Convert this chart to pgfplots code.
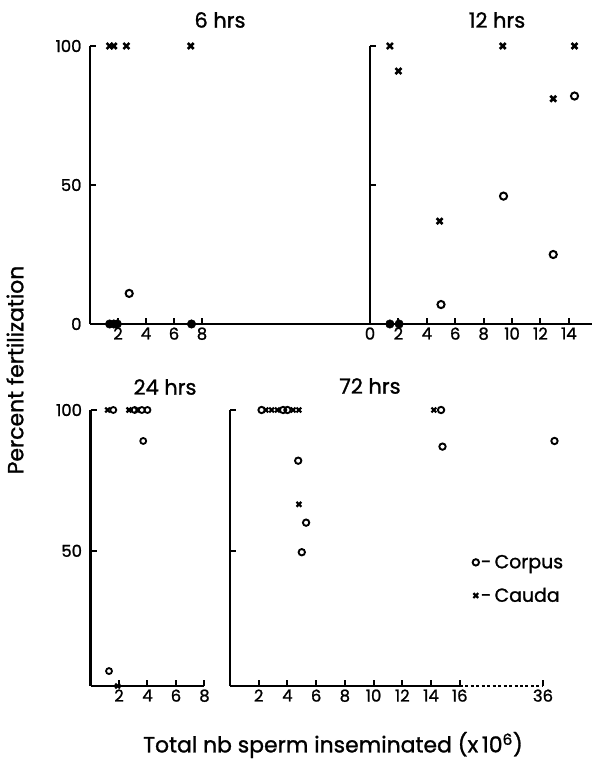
\documentclass[border=0pt]{standalone}
\usepackage{pgfplots}
\pgfplotsset{compat=1.18}
\usepackage{fontspec}
\setmainfont{Poppins}
\newfontfamily\lab{Poppins}[FakeBold=1.2]
\begin{document}
\begin{tikzpicture}
\useasboundingbox (0,0) rectangle (592bp,764bp);
\pgfplotsset{
  panel/.style={
    scale only axis, anchor=south west,
    axis x line=bottom, axis y line=left,
    axis line style={-, line width=2.3pt},
    tick align=inside, major tick length=6bp,
    tick style={line width=2pt, black},
    ticklabel style={font=\fontsize{16.5}{16.5}\selectfont\lab},
    yticklabel style={xshift=-5bp},
    /pgf/number format/assume math mode=true,
    clip=false,
  },
  corpus/.style={only marks, mark=o, mark size=3.6pt, mark options={line width=2pt}},
  corpusfill/.style={only marks, mark=*, mark size=4.3pt, mark options={fill=black}},
  cauda/.style={only marks, mark=x, mark size=4.2pt, mark options={line width=2.6pt}},
}
% 6 hrs
\begin{axis}[panel, at={(90bp,440bp)}, width=280bp, height=278bp,
  xmin=0, xmax=20, ymin=0, ymax=100, xtick={2,4,6,8}, ytick={0,50,100}]
\addplot[cauda] coordinates {(1.4,100)(1.7,100)(2.6,100)(7.2,100)};
\addplot[corpus] coordinates {(2.8,11)};
\addplot[corpusfill] coordinates {(1.4,0)(1.7,0)(1.95,0)(7.25,0)};
\end{axis}
% 12 hrs
\begin{axis}[panel, at={(370bp,440bp)}, width=222bp, height=278bp,
  xmin=0, xmax=15.63, ymin=0, ymax=100, xtick={0,2,...,14}, ytick={50,100}, yticklabels={}]
\addplot[cauda] coordinates {(1.4,100)(2.0,91)(4.9,37)(9.35,100)(12.9,81)(14.4,100)};
\addplot[corpus] coordinates {(5.0,7)(9.4,46)(12.9,25)(14.4,82)};
\addplot[corpusfill] coordinates {(1.4,0)(2.05,0)};
\end{axis}
% 24 hrs
\begin{axis}[panel, at={(90.5bp,78bp)}, width=114bp, height=276bp,
  xmin=0, xmax=8, ymin=2, ymax=100, xtick={2,4,6,8}, ytick={50,100}]
\addplot[cauda, mark size=3.4pt, mark options={line width=2.2pt}] coordinates {(1.2,100)(2.7,100)(3.3,100)(1.9,2)};
\addplot[corpus, mark size=3pt, mark options={line width=1.8pt}] coordinates {(1.6,100)(3.1,100)(3.6,100)(4.0,100)(3.7,89)(1.3,7.3)};
\end{axis}
% 72 hrs
\begin{axis}[panel, at={(230bp,78bp)}, width=313bp, height=276bp,
  xmin=0, xmax=21.8, ymin=2, ymax=100,
  xtick={2,4,6,8,10,12,14,16,21.8}, xticklabels={2,4,6,8,10,12,14,16,36},
  ytick={50,100}, yticklabels={},
  x axis line style={draw=none},
  legend style={draw=none, fill=none, at={(0.765,0.49)}, anchor=north west,
    font=\fontsize{19}{19}\selectfont\lab, row sep=14bp},
  legend cell align=left]
\addplot[corpus, mark size=3.2pt, mark options={line width=1.9pt}] coordinates {(2.2,100)(3.7,100)(4.0,100)(14.7,100)(4.75,82)(5.3,60)(5.0,49.5)(14.8,87)(22.6,89)};
\addlegendentry{-\,Corpus}
\addplot[cauda, mark size=3.4pt, mark options={line width=2.2pt}] coordinates {(2.5,100)(2.9,100)(3.3,100)(4.4,100)(4.8,100)(14.2,100)(4.8,66.5)};
\addlegendentry{-\,Cauda}
\draw[line width=2.3pt] (axis cs:0,2) -- (axis cs:16,2);
\draw[line width=1.5pt, dash pattern=on 3pt off 2.5pt] (axis cs:16,2) -- (axis cs:21.8,2);
\end{axis}
% titles and labels
\node[font=\fontsize{21}{21}\selectfont\lab] at (220bp,744bp) {6 hrs};
\node[font=\fontsize{21}{21}\selectfont\lab] at (497bp,744bp) {12 hrs};
\node[font=\fontsize{21}{21}\selectfont\lab] at (165bp,377bp) {24 hrs};
\node[font=\fontsize{21}{21}\selectfont\lab] at (370bp,378bp) {72 hrs};
\node[font=\fontsize{22}{22}\selectfont\lab, rotate=90] at (15bp,394bp) {Percent fertilization};
\node[font=\fontsize{22}{22}\selectfont\lab] at (333bp,19bp) {Total nb sperm inseminated (x\,10\textsuperscript{6})};
\end{tikzpicture}
\end{document}
